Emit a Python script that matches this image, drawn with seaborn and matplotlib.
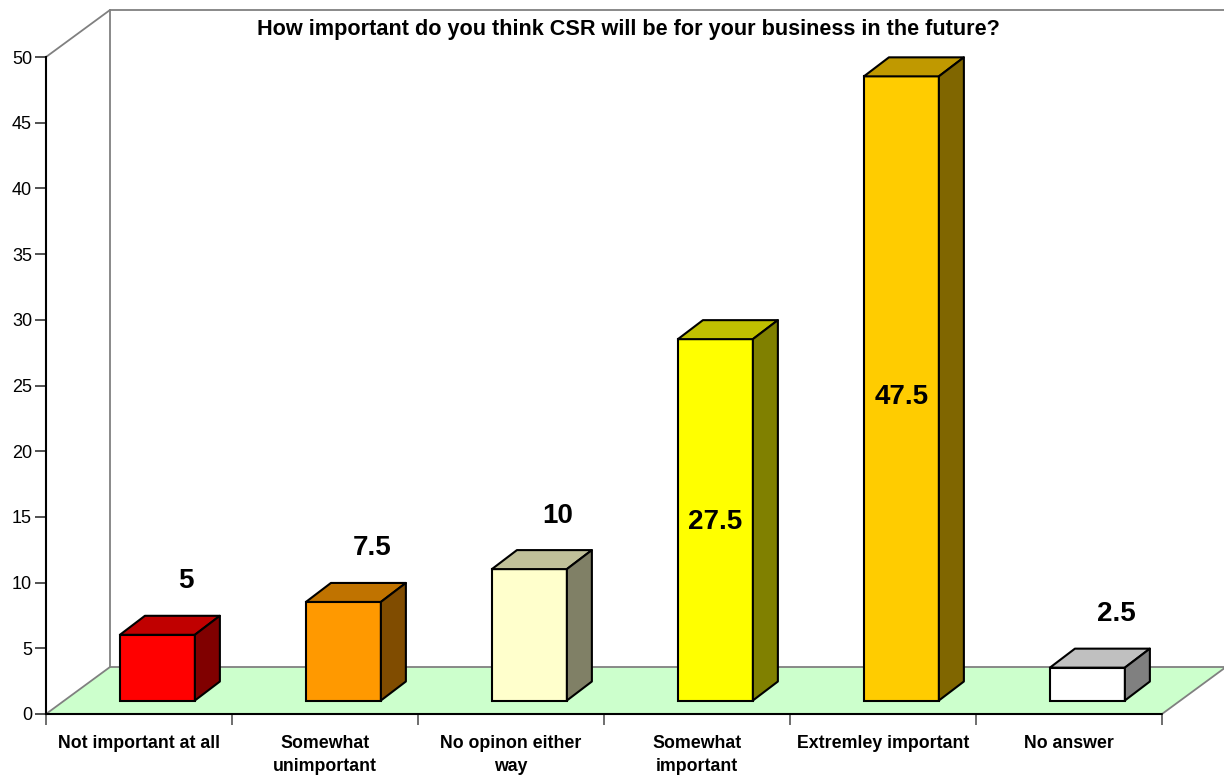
import numpy as np
import pandas as pd
import matplotlib
matplotlib.use("Agg")
import matplotlib.pyplot as plt
import matplotlib.transforms as mtransforms
from matplotlib.patches import Polygon
from matplotlib.lines import Line2D
import seaborn as sns

# ---- data ----
categories = ["Not important at all", "Somewhat\nunimportant", "No opinon either\nway",
              "Somewhat\nimportant", "Extremley important", "No answer"]
values = [5, 7.5, 10, 27.5, 47.5, 2.5]
front_colors = ["#FF0000", "#FF9900", "#FFFFCC", "#FFFF00", "#FFCC00", "#FFFFFF"]
top_colors = ["#C00000", "#C07300", "#C0C099", "#C0C000", "#C09900", "#C0C0C0"]
side_colors = ["#800000", "#804C00", "#808066", "#808000", "#806600", "#808080"]
label_inside = [False, False, False, True, True, False]
yticks = list(range(0, 55, 5))
title = "How important do you think CSR will be for your business in the future?"

sns.set_style("white")
plt.rcParams["font.family"] = ["Liberation Sans", "DejaVu Sans"]
plt.rcParams["text.color"] = "black"
plt.rcParams["xtick.color"] = "black"
plt.rcParams["ytick.color"] = "black"

W, H = 1224, 778
fig = plt.figure(figsize=(W / 100, H / 100), dpi=100)
x_left, x_right, y_zero, y_top = 46, 1162, 714, 57
ax = fig.add_axes([x_left / W, 1 - y_zero / H, (x_right - x_left) / W, (y_zero - y_top) / H])

df = pd.DataFrame({"category": categories, "value": values})
sns.barplot(data=df, x="category", y="value", hue="category", palette=front_colors,
            saturation=1, legend=False, width=0.403, edgecolor="black", linewidth=1.5,
            ax=ax, zorder=3)
ax.set_xlim(-0.5, 5.5)
ax.set_ylim(0, 50)

# pixel -> data scale for the 3D offsets
px_x = (x_right - x_left) / 6.0
px_y = (y_zero - y_top) / 50.0
floor_dx, floor_dy = 64 / px_x, 47 / px_y      # depth of the floor / walls
front_dx, front_dy = 18.4 / px_x, 13.5 / px_y  # front plane of the bars
bar_dx, bar_dy = 25 / px_x, 19 / px_y          # depth of each bar

bars = list(ax.patches)

wall_col = "#808080"
# floor
floor = Polygon([(-0.5, 0), (5.5, 0), (5.5 + floor_dx, floor_dy), (-0.5 + floor_dx, floor_dy)],
                closed=True, facecolor="#CCFFCC", edgecolor=wall_col, linewidth=1.3,
                clip_on=False, zorder=1)
ax.add_patch(floor)
# front edge of the floor
ax.add_line(Line2D([-0.5, 5.5], [0, 0], color="black", linewidth=1.5, clip_on=False, zorder=2))
# back wall and side wall edges
bx = -0.5 + floor_dx
ax.add_line(Line2D([bx, bx], [floor_dy, 50 + floor_dy], color=wall_col, linewidth=1.3,
                   clip_on=False, zorder=1))
ax.add_line(Line2D([bx, 5.5 + floor_dx + 1], [50 + floor_dy, 50 + floor_dy], color=wall_col,
                   linewidth=1.3, clip_on=False, zorder=1))
ax.add_line(Line2D([-0.5, bx], [50, 50 + floor_dy], color=wall_col, linewidth=1.3,
                   clip_on=False, zorder=1))

# bars: shift the front faces onto their plane and add top/side faces
bar_tr = mtransforms.Affine2D().translate(front_dx, front_dy) + ax.transData
for i, p in enumerate(bars):
    p.set_transform(bar_tr)
    p.set_clip_on(False)
    x0 = p.get_x()
    x1 = x0 + p.get_width()
    h = p.get_height()
    top = Polygon([(x0, h), (x1, h), (x1 + bar_dx, h + bar_dy), (x0 + bar_dx, h + bar_dy)],
                  closed=True, facecolor=top_colors[i], edgecolor="black", linewidth=1.5,
                  transform=bar_tr, clip_on=False, zorder=3, joinstyle="round")
    side = Polygon([(x1, 0), (x1 + bar_dx, bar_dy), (x1 + bar_dx, h + bar_dy), (x1, h)],
                   closed=True, facecolor=side_colors[i], edgecolor="black", linewidth=1.5,
                   transform=bar_tr, clip_on=False, zorder=3, joinstyle="round")
    ax.add_patch(top)
    ax.add_patch(side)
    v = values[i]
    txt = f"{v:g}"
    cx = (x0 + x1) / 2
    if label_inside[i]:
        ax.text(cx + front_dx, v * 0.475 + front_dy + 0.5, txt, ha="center", va="center",
                fontsize=20, fontweight="bold", zorder=5, clip_on=False)
    else:
        ax.text(cx + front_dx + bar_dx + 0.02, v + front_dy + bar_dy + 2.1, txt,
                ha="center", va="baseline", fontsize=20, fontweight="bold",
                zorder=5, clip_on=False)

# axes styling
for s in ["top", "right", "bottom"]:
    ax.spines[s].set_visible(False)
ax.spines["left"].set_color("black")
ax.spines["left"].set_linewidth(1.5)
ax.spines["left"].set_zorder(2)
ax.patch.set_visible(False)

ax.set_yticks(yticks)
ax.set_yticklabels([str(t) for t in yticks])
ax.tick_params(axis="y", which="major", direction="out", length=8, width=1.2, color="#333333",
               labelsize=13, pad=2, left=True)
ax.set_xticks(range(6))
ax.set_xticklabels(categories, fontweight="bold", fontsize=12.8, linespacing=1.5, va="top")
ax.set_xticks(np.arange(-0.5, 6, 1), minor=True)
ax.tick_params(axis="x", which="major", length=0, pad=15)
ax.tick_params(axis="x", which="minor", direction="out", length=8, width=1.2, color="#555555",
               bottom=True)
ax.set_xlabel("")
ax.set_ylabel("")

fig.text(628 / W, 1 - 29 / H, title, ha="center", va="center", fontsize=15.6, fontweight="bold")

fig.savefig("out.png", dpi=100, facecolor="white")
